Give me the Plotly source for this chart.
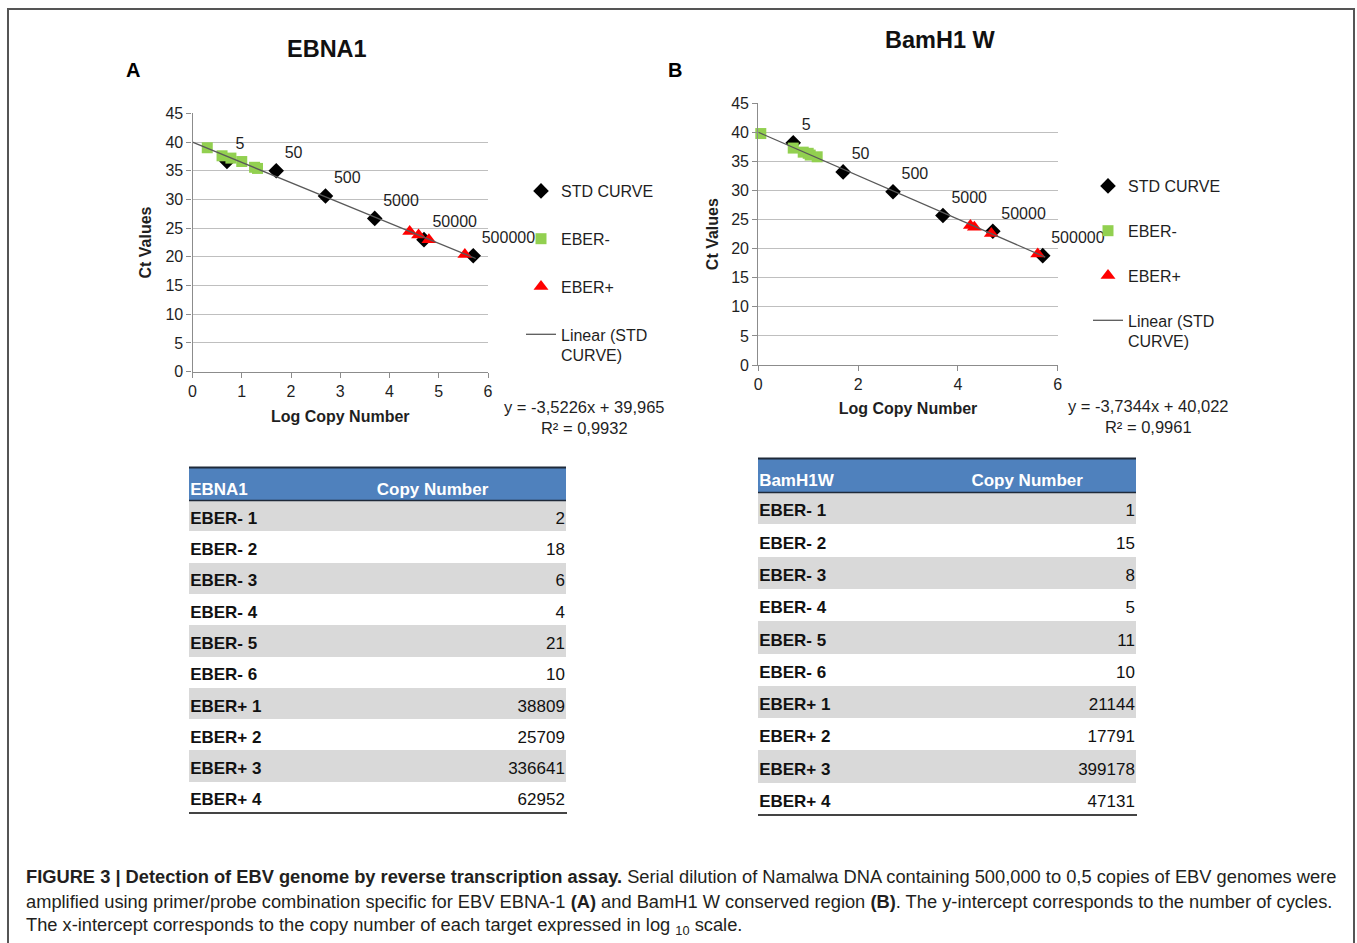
import plotly.graph_objects as go

W, H = 1357, 943
F = "Arial, Liberation Sans, sans-serif"

def px(x):
    return x / W

def py(y):
    return 1 - y / H

# ---------------- data: panel A (EBNA1) ----------------
a_std_x = [0.70, 1.70, 2.70, 3.70, 4.70, 5.70]
a_std_y = [36.6, 35.0, 30.6, 26.7, 23.0, 20.2]
std_labels = ["5", "50", "500", "5000", "50000", "500000"]
a_neg_x = [0.30, 1.26, 0.78, 0.60, 1.32, 1.00]
a_neg_y = [39.0, 35.6, 37.2, 37.6, 35.4, 36.6]
a_pos_x = [4.59, 4.41, 5.53, 4.80]
a_pos_y = [23.8, 24.4, 20.4, 23.0]
a_fit_x = [0.0, 5.75]
a_fit_y = [39.97, 19.71]
a_equation = "y = -3,5226x + 39,965<br>R² = 0,9932"

# ---------------- data: panel B (BamH1 W) ----------------
b_std_x = [0.70, 1.70, 2.70, 3.70, 4.70, 5.70]
b_std_y = [38.2, 33.2, 29.8, 25.7, 23.0, 18.8]
b_neg_x = [0.05, 1.18, 0.90, 0.70, 1.04, 1.00]
b_neg_y = [39.8, 35.8, 36.6, 37.3, 36.1, 36.4]
b_pos_x = [4.33, 4.25, 5.60, 4.67]
b_pos_y = [23.7, 24.0, 19.1, 22.6]
b_fit_x = [0.0, 5.75]
b_fit_y = [40.02, 18.55]
b_equation = "y = -3,7344x + 40,022<br>R² = 0,9961"

# ---------------- tables ----------------
row_names = ["EBER- 1", "EBER- 2", "EBER- 3", "EBER- 4", "EBER- 5", "EBER- 6",
             "EBER+ 1", "EBER+ 2", "EBER+ 3", "EBER+ 4"]
a_copies = [2, 18, 6, 4, 21, 10, 38809, 25709, 336641, 62952]
b_copies = [1, 15, 8, 5, 11, 10, 21144, 17791, 399178, 47131]
a_table_head = ["EBNA1", "Copy Number"]
b_table_head = ["BamH1W", "Copy Number"]

GREEN = "#92D050"
RED = "#FF0000"
BLACK = "#000000"
GRID = "#BFBFBF"
AXC = "#8C8C8C"
TXT = "#1F1F1F"
HEAD = "#4F81BD"
STRIPE = "#D9D9D9"

fig = go.Figure()

def add_panel(xa, ya, leg, sx, sy, nx, ny, qx, qy, fx, fy, g):
    fig.add_trace(go.Scatter(
        x=sx, y=sy, mode="markers+text", name="STD CURVE",
        text=std_labels, textposition="top right",
        textfont=dict(size=16, family=F, color=TXT), cliponaxis=False,
        marker=dict(symbol="diamond", size=12, color=BLACK),
        xaxis=xa, yaxis=ya, legend=leg, legendgroup=g + "1"))
    fig.add_trace(go.Scatter(
        x=nx, y=ny, mode="markers", name="EBER-",
        marker=dict(symbol="square", size=11, color=GREEN),
        xaxis=xa, yaxis=ya, legend=leg, legendgroup=g + "2", cliponaxis=False))
    fig.add_trace(go.Scatter(
        x=qx, y=qy, mode="markers", name="EBER+",
        marker=dict(symbol="triangle-up", size=13, color=RED),
        xaxis=xa, yaxis=ya, legend=leg, legendgroup=g + "3", cliponaxis=False))
    fig.add_trace(go.Scatter(
        x=fx, y=fy, mode="lines", name="Linear (STD<br>CURVE)",
        line=dict(color="#595959", width=1.3),
        xaxis=xa, yaxis=ya, legend=leg, legendgroup=g + "4"))

add_panel("x", "y", "legend", a_std_x, a_std_y, a_neg_x, a_neg_y,
          a_pos_x, a_pos_y, a_fit_x, a_fit_y, "a")
add_panel("x2", "y2", "legend2", b_std_x, b_std_y, b_neg_x, b_neg_y,
          b_pos_x, b_pos_y, b_fit_x, b_fit_y, "b")

# tables drawn on hidden axes: row i occupies [i-0.5, i+0.5]; header above row 0
def add_table(xa, ya, head, copies, col2_center, head_units):
    n = len(row_names)
    rows = list(range(n))
    stripe_rows = [r for r in rows if r % 2 == 0]
    hy = -0.5 - head_units / 2
    fig.add_trace(go.Bar(
        y=stripe_rows, x=[1] * len(stripe_rows), base=0, orientation="h",
        width=1, marker=dict(color=STRIPE, line=dict(width=0)),
        xaxis=xa, yaxis=ya, showlegend=False, hoverinfo="skip"))
    fig.add_trace(go.Bar(
        y=[hy], x=[1], base=0, orientation="h", width=head_units,
        marker=dict(color=HEAD, line=dict(width=0)),
        xaxis=xa, yaxis=ya, showlegend=False, hoverinfo="skip"))
    fig.add_trace(go.Scatter(
        x=[0.003] * n, y=[r + 0.12 for r in rows], mode="text",
        text=["<b>%s</b>" % r for r in row_names], textposition="middle right",
        textfont=dict(size=17, family=F, color="#111111"), cliponaxis=False,
        xaxis=xa, yaxis=ya, showlegend=False, hoverinfo="skip"))
    fig.add_trace(go.Scatter(
        x=[0.997] * n, y=[r + 0.12 for r in rows], mode="text",
        text=[str(c) for c in copies], textposition="middle left",
        textfont=dict(size=17, family=F, color="#111111"), cliponaxis=False,
        xaxis=xa, yaxis=ya, showlegend=False, hoverinfo="skip"))
    fig.add_trace(go.Scatter(
        x=[0.003, col2_center], y=[hy + 0.22, hy + 0.22], mode="text",
        text=["<b>%s</b>" % h for h in head],
        textposition=["middle right", "middle center"],
        textfont=dict(size=17, family=F, color="white"), cliponaxis=False,
        xaxis=xa, yaxis=ya, showlegend=False, hoverinfo="skip"))

add_table("x3", "y3", a_table_head, a_copies, 0.646, 1.06)
add_table("x4", "y4", b_table_head, b_copies, 0.712, 1.06)

axis_common = dict(showline=True, linecolor=AXC, linewidth=1.2, ticks="outside",
                   ticklen=5, tickcolor=AXC, zeroline=False, automargin=False,
                   tickfont=dict(size=16, family=F, color=TXT))
hidden = dict(visible=False, showgrid=False, zeroline=False, fixedrange=True,
              automargin=False)

fig.update_layout(
    width=W, height=H, margin=dict(l=0, r=0, t=0, b=0, pad=0, autoexpand=False),
    paper_bgcolor="white", plot_bgcolor="rgba(0,0,0,0)", bargap=0,
    xaxis=dict(domain=[px(192.5), px(488)], range=[0, 6], dtick=1,
               showgrid=False, anchor="y",
               title=dict(text="<b>Log Copy Number</b>", standoff=11,
                          font=dict(size=16, family=F, color=TXT)),
               **axis_common),
    yaxis=dict(domain=[py(371.7), py(113.3)], range=[0, 45], dtick=5,
               showgrid=True, gridcolor=GRID, gridwidth=1.3, anchor="x",
               title=dict(text="<b>Ct Values</b>", standoff=9,
                          font=dict(size=16, family=F, color=TXT)),
               **axis_common),
    xaxis2=dict(domain=[px(758.3), px(1057.7)], range=[0, 6], dtick=2,
                showgrid=False, anchor="y2",
                title=dict(text="<b>Log Copy Number</b>", standoff=10,
                           font=dict(size=16, family=F, color=TXT)),
                **axis_common),
    yaxis2=dict(domain=[py(365), py(103.3)], range=[0, 45], dtick=5,
                showgrid=True, gridcolor=GRID, gridwidth=1.3, anchor="x2",
                title=dict(text="<b>Ct Values</b>", standoff=8,
                           font=dict(size=16, family=F, color=TXT)),
                **axis_common),
    xaxis3=dict(domain=[px(189), px(566)], range=[0, 1], anchor="y3", **hidden),
    yaxis3=dict(domain=[py(813), py(467)], range=[9.5, -1.56], anchor="x3", **hidden),
    xaxis4=dict(domain=[px(758), px(1136)], range=[0, 1], anchor="y4", **hidden),
    yaxis4=dict(domain=[py(815), py(458)], range=[9.5, -1.56], anchor="x4", **hidden),
    legend=dict(x=px(521), y=py(174), xanchor="left", yanchor="top",
                font=dict(size=16, family=F, color=TXT), tracegroupgap=24,
                traceorder="grouped", valign="top", bgcolor="rgba(0,0,0,0)"),
    legend2=dict(x=px(1088), y=py(169), xanchor="left", yanchor="top",
                 font=dict(size=16, family=F, color=TXT), tracegroupgap=21,
                 traceorder="grouped", valign="top", bgcolor="rgba(0,0,0,0)"),
)

ann = []
def note(x, y, text, size, xanchor="center", align="center", color=TXT):
    ann.append(dict(x=px(x), y=py(y), xref="paper", yref="paper", text=text,
                    showarrow=False, xanchor=xanchor, yanchor="middle", align=align,
                    font=dict(size=size, family=F, color=color)))

note(327, 49, "<b>EBNA1</b>", 23.5, color="#111")
note(940, 40, "<b>BamH1 W</b>", 23.5, color="#111")
note(133, 70, "<b>A</b>", 20, color="#000")
note(675, 70, "<b>B</b>", 20, color="#000")
note(584, 417, a_equation, 16.5)
note(1148, 416, b_equation, 16.5)

CAP = "#231F20"
cap1 = ("<b>FIGURE 3 | Detection of EBV genome by reverse transcription assay.</b> "
        "Serial dilution of Namalwa DNA containing 500,000 to 0,5 copies of EBV genomes were")
cap2 = ("amplified using primer/probe combination specific for EBV EBNA-1 <b>(A)</b> and "
        "BamH1 W conserved region <b>(B)</b>. The y-intercept corresponds to the number of cycles.")
cap3 = "The x-intercept corresponds to the copy number of each target expressed in log <sub>10</sub> scale."
note(24, 876, cap1, 18.3, xanchor="left", align="left", color=CAP)
note(24, 901, cap2, 18.3, xanchor="left", align="left", color=CAP)
note(24, 926, cap3, 18.3, xanchor="left", align="left", color=CAP)
fig.update_layout(annotations=ann)

frame_path = "M %f,%f L %f,%f L %f,%f L %f,%f" % (
    px(8), py(943), px(8), py(9), px(1354), py(9), px(1354), py(943))
shapes = [
    dict(type="path", xref="paper", yref="paper", path=frame_path,
         line=dict(color="#555555", width=2)),
    # table A rules
    dict(type="line", xref="paper", yref="paper", x0=px(189), x1=px(566),
         y0=py(467.5), y1=py(467.5), line=dict(color="#1F2A3A", width=2)),
    dict(type="line", xref="paper", yref="paper", x0=px(189), x1=px(566),
         y0=py(500.5), y1=py(500.5), line=dict(color="#1F2A3A", width=1.5)),
    dict(type="line", xref="paper", yref="paper", x0=px(189), x1=px(567),
         y0=py(813), y1=py(813), line=dict(color="#444444", width=2)),
    # table B rules
    dict(type="line", xref="paper", yref="paper", x0=px(758), x1=px(1136),
         y0=py(458.5), y1=py(458.5), line=dict(color="#1F2A3A", width=2)),
    dict(type="line", xref="paper", yref="paper", x0=px(758), x1=px(1136),
         y0=py(492.5), y1=py(492.5), line=dict(color="#1F2A3A", width=1.5)),
    dict(type="line", xref="paper", yref="paper", x0=px(758), x1=px(1137),
         y0=py(815), y1=py(815), line=dict(color="#444444", width=2)),
]
fig.update_layout(shapes=shapes)

fig.write_html("out.html", config={"displayModeBar": False},
               post_script="document.body.style.margin='0px';")
